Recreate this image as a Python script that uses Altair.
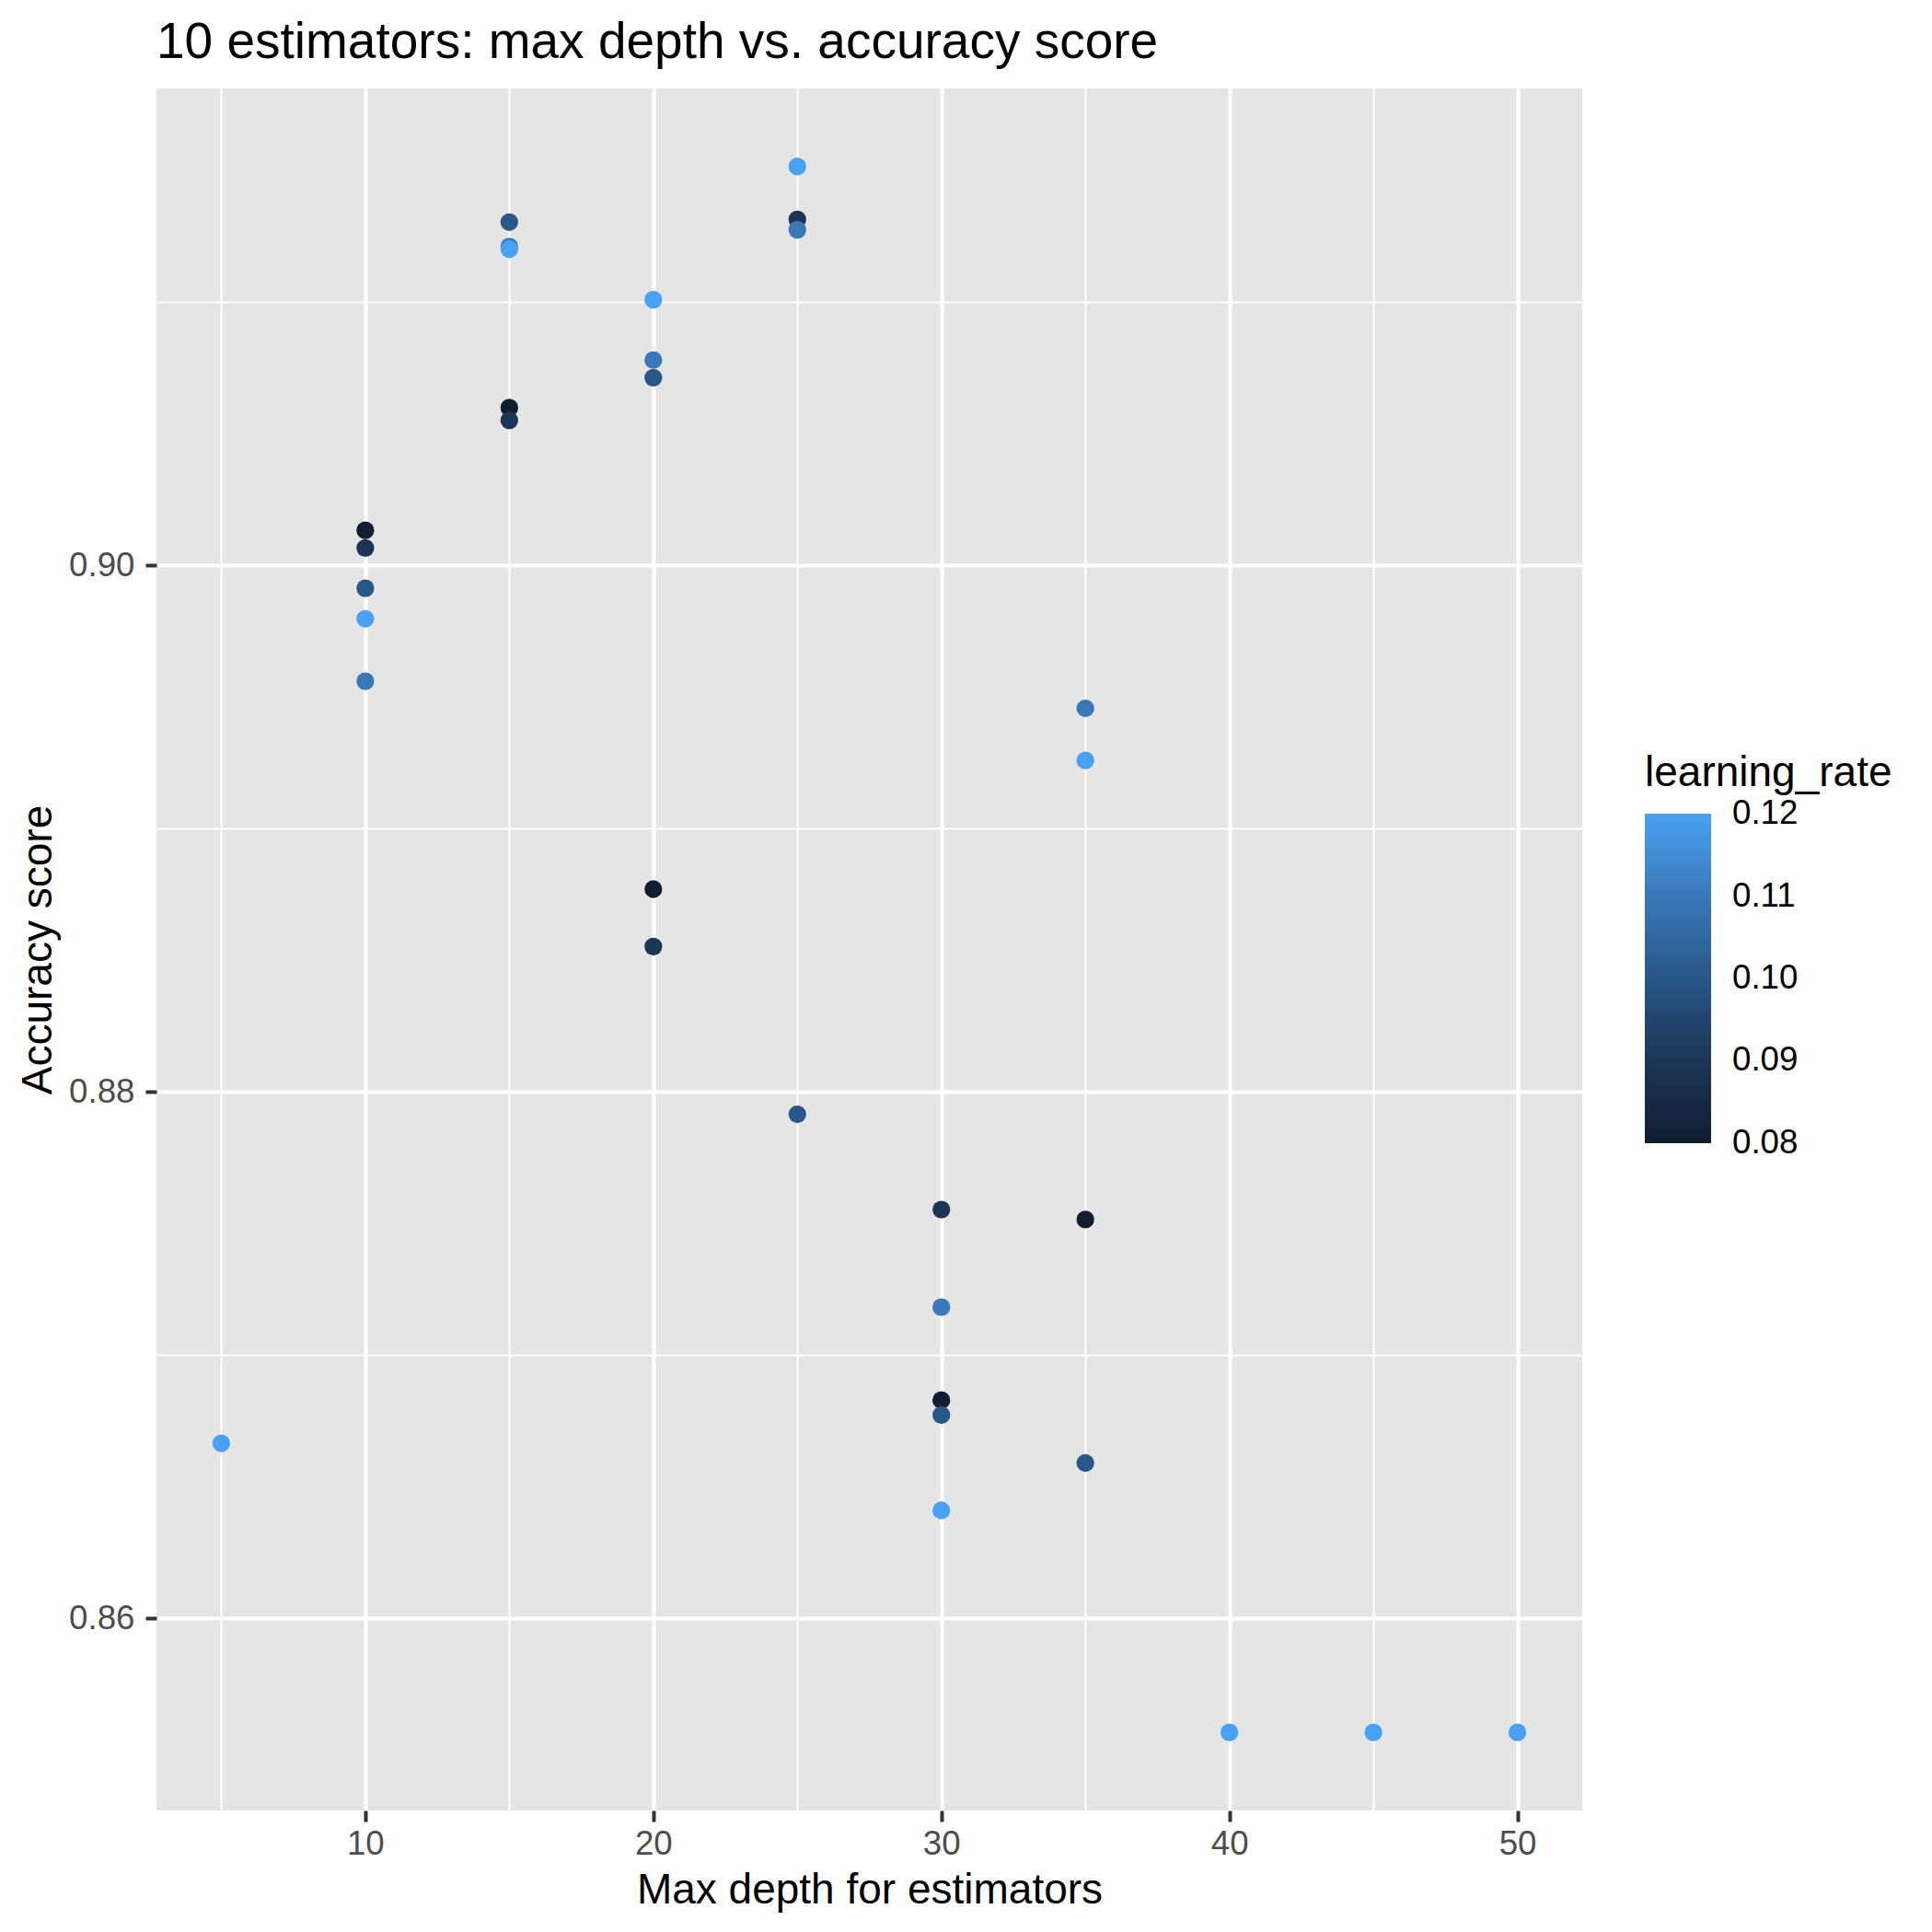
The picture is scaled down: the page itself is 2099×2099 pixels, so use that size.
import altair as alt
import pandas as pd

# ---- data ----
max_depth = [5,
             10, 10, 10, 10, 10,
             15, 15, 15, 15, 15,
             20, 20, 20, 20, 20,
             25, 25, 25, 25,
             30, 30, 30, 30, 30,
             35, 35, 35, 35,
             40, 45, 50]
learning_rate = [0.12,
                 0.08, 0.09, 0.10, 0.11, 0.12,
                 0.08, 0.09, 0.10, 0.11, 0.12,
                 0.08, 0.09, 0.10, 0.11, 0.12,
                 0.09, 0.10, 0.11, 0.12,
                 0.08, 0.09, 0.10, 0.11, 0.12,
                 0.08, 0.10, 0.11, 0.12,
                 0.12, 0.12, 0.12]
accuracy = [0.86665,
            0.90133, 0.90066, 0.89913, 0.89560, 0.89797,
            0.90599, 0.90551, 0.91304, 0.91211, 0.91201,
            0.88770, 0.88552, 0.90713, 0.90780, 0.91009,
            0.91314, 0.87915, 0.91275, 0.91515,
            0.86829, 0.87553, 0.86772, 0.87182, 0.86410,
            0.87515, 0.86590, 0.89457, 0.89259,
            0.85567, 0.85567, 0.85567]

x_grid_values = [5, 10, 15, 20, 25, 30, 35, 40, 45, 50]
y_grid_values = [0.86, 0.87, 0.88, 0.89, 0.90, 0.91]
legend_values = [0.08, 0.09, 0.10, 0.11, 0.12]
color_stops = ["#111e31", "#1c3555", "#285788", "#3a78b8", "#4aa0f2"]

df = pd.DataFrame({"max_depth": max_depth, "learning_rate": learning_rate,
                   "accuracy": accuracy})

# colour scale: stops at the legend values, with a hair of extra room at both
# ends so the end labels of the colour bar are centred on their positions
color_domain = [legend_values[0] - 1e-6] + legend_values + [legend_values[-1] + 1e-6]
color_range = [color_stops[0]] + color_stops + [color_stops[-1]]

FONT = "Liberation Sans"

x_axis = alt.Axis(
    values=x_grid_values,
    labelExpr="datum.value % 10 == 0 ? datum.label : ''",
    format="d",
    grid=True,
    gridColor="white",
    gridWidth={"condition": {"test": "datum.value % 10 == 0", "value": 4}, "value": 2},
    tickOpacity={"condition": {"test": "datum.value % 10 == 0", "value": 1}, "value": 0},
    tickColor="#333333", tickWidth=4, tickSize=12,
    domain=False,
    labelFont=FONT, labelFontSize=36.7, labelColor="#4D4D4D", labelPadding=6,
    labelFlush=False, labelOverlap=False,
    titleFont=FONT, titleFontSize=46, titleFontWeight="normal", titleColor="black",
    titleBaseline="alphabetic", titleY=100,
)

y_axis = alt.Axis(
    values=y_grid_values,
    labelExpr="round(datum.value*100) % 2 == 0 ? format(datum.value, '.2f') : ''",
    grid=True,
    gridColor="white",
    gridWidth={"condition": {"test": "round(datum.value*100) % 2 == 0", "value": 4}, "value": 2},
    tickOpacity={"condition": {"test": "round(datum.value*100) % 2 == 0", "value": 1}, "value": 0},
    tickColor="#333333", tickWidth=4, tickSize=12,
    domain=False,
    labelFont=FONT, labelFontSize=36.7, labelColor="#4D4D4D", labelPadding=12,
    labelFlush=False, labelOverlap=False,
    titleFont=FONT, titleFontSize=46, titleFontWeight="normal", titleColor="black",
    titleAngle=270, titleBaseline="alphabetic", titleAlign="center",
    titleX=-115, titleY=935.5,
)

legend = alt.Legend(
    orient="none", legendX=1617, legendY=722,
    direction="vertical",
    values=legend_values, format=".2f",
    title="learning_rate",
    titleFont=FONT, titleFontSize=46, titleFontWeight="normal", titleColor="black",
    titlePadding=20, titleLimit=500,
    labelFont=FONT, labelFontSize=36.7, labelColor="black", labelOffset=23,
    labelLimit=300, labelOverlap=False,
    gradientLength=358, gradientThickness=72, gradientStrokeWidth=0,
)

chart = alt.Chart(df).mark_circle(size=372, opacity=1).encode(
    x=alt.X("max_depth:Q", title="Max depth for estimators",
            scale=alt.Scale(domain=[2.75, 52.25], nice=False, zero=False),
            axis=x_axis),
    y=alt.Y("accuracy:Q", title="Accuracy score",
            scale=alt.Scale(domain=[0.85270, 0.91812], nice=False, zero=False),
            axis=y_axis),
    color=alt.Color("learning_rate:Q",
                    scale=alt.Scale(domain=color_domain, range=color_range),
                    legend=legend),
).properties(
    width=1549, height=1871,
    title=alt.TitleParams("10 estimators: max depth vs. accuracy score",
                          anchor="start", frame="group", font=FONT, fontSize=55,
                          fontWeight="normal", color="black", offset=21),
    autosize=alt.AutoSizeParams(type="none"),
    padding={"left": 162, "top": 88, "right": 360, "bottom": 124},
).configure_view(fill="#E5E5E5", strokeWidth=0)

chart.save("out.html", embed_options={"renderer": "svg", "actions": False})
